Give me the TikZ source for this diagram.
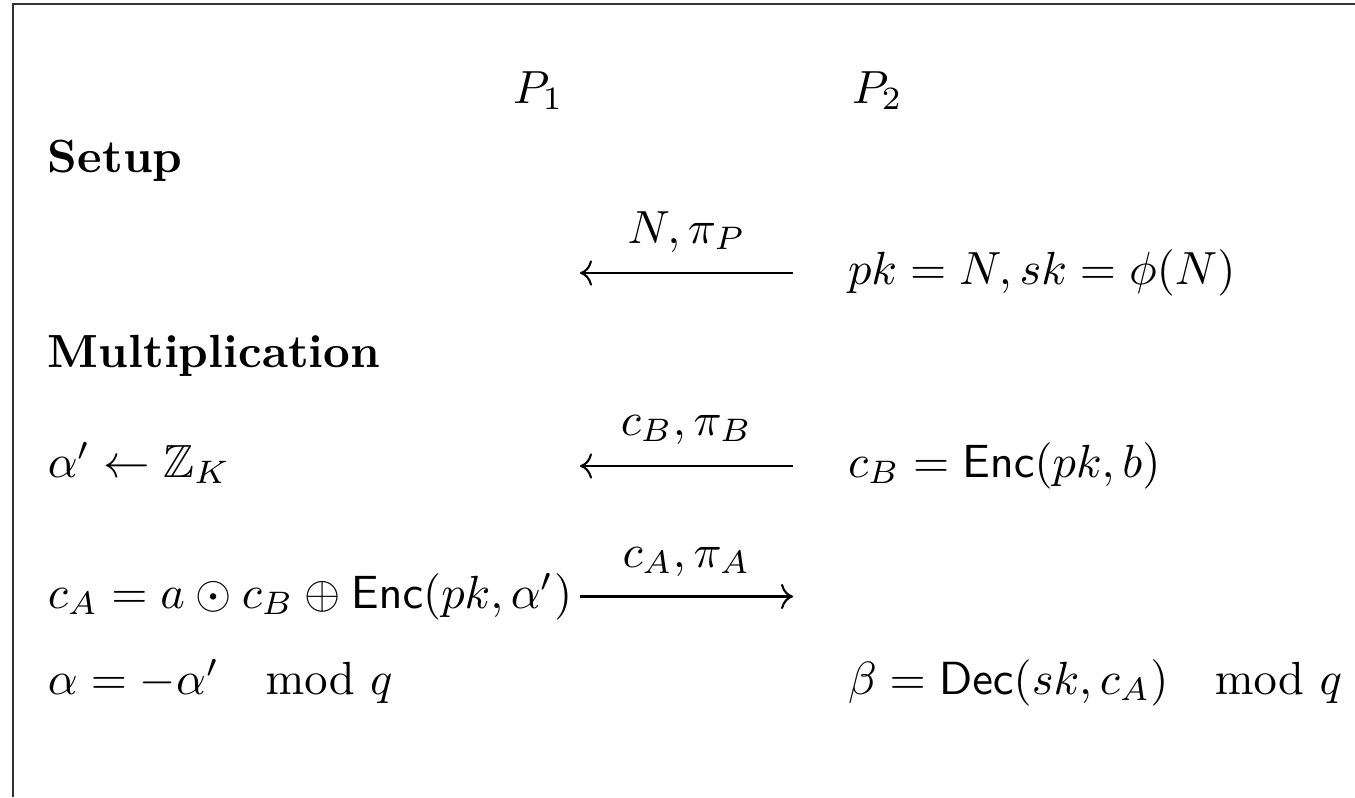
\documentclass[tikz,border=0pt]{standalone}
\usepackage{amsmath,amssymb}
\usetikzlibrary{arrows.meta}
\newcommand{\dmod}[1]{\mkern18mu{\operator@font mod}\,\,#1}
\makeatletter
\renewcommand{\dmod}[1]{\mkern18mu{\operator@font mod}\,\,#1}
\makeatother
\begin{document}
\begin{tikzpicture}[x=0.21505pt,y=-0.21505pt,
  txt/.style={anchor=base west,inner sep=0pt,outer sep=0pt},
  lbl/.style={anchor=base,inner sep=0pt,outer sep=0pt},
  msg/.style={line width=0.45pt,-{Computer Modern Rightarrow}},
  frame/.style={line width=0.5pt,draw=black!80}]
\useasboundingbox (0,0) rectangle (1355,797);
\draw[frame] (12.7,797) -- (12.7,4) -- (1355,4);
% header
\node[txt] (p1) at (513,103) {$P_1$};
\node[txt] (p2) at (852,103) {$P_2$};
% setup
\node[txt] (setup) at (48,172) {\textbf{Setup}};
\node[txt] (pkrow) at (848,284) {$pk = N, sk = \phi(N)$};
\coordinate (a1l) at (580,273);
\coordinate (a1r) at (793,273);
\draw[msg] (a1r) -- (a1l);
\node[lbl] (l1) at (686.5,243) {$N, \pi_P$};
% multiplication
\node[txt] (mult) at (48,367) {\textbf{Multiplication}};
\node[txt] (alphap) at (48,477) {$\alpha' \leftarrow \mathbb{Z}_K$};
\node[txt] (cb) at (848,477) {$c_B = \mathsf{Enc}(pk, b)$};
\coordinate (a2l) at (580,466);
\coordinate (a2r) at (793,466);
\draw[msg] (a2r) -- (a2l);
\node[lbl] (l2) at (686.5,435) {$c_B, \pi_B$};
\node[txt] (ca) at (48,608) {$c_A = a \odot c_B \oplus \mathsf{Enc}(pk, \alpha')$};
\coordinate (a3l) at (580,596.5);
\coordinate (a3r) at (793,596.5);
\draw[msg] (a3l) -- (a3r);
\node[lbl] (l3) at (686.5,567) {$c_A, \pi_A$};
\node[txt] (alpha) at (48,694) {$\alpha = -\alpha' \dmod{q}$};
\node[txt] (beta) at (848,694) {$\beta = \mathsf{Dec}(sk, c_A) \dmod{q}$};
\end{tikzpicture}
\end{document}
